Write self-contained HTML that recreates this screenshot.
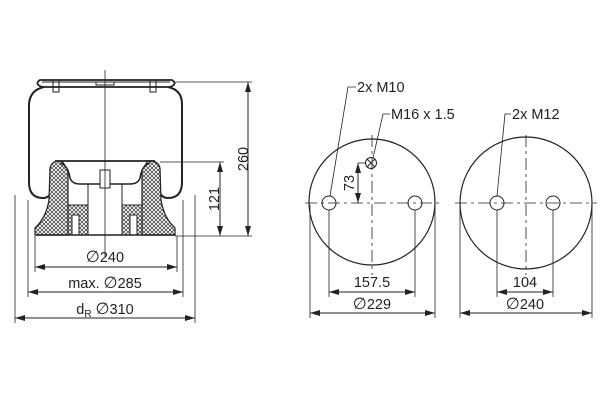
<!DOCTYPE html>
<html><head><meta charset="utf-8"><style>
html,body{margin:0;padding:0;background:#fff;}
svg{display:block}
text{font-family:"Liberation Sans",Arial,sans-serif;font-size:14.5px;fill:#222}
.d{font-family:"DejaVu Sans",sans-serif;font-size:16px}
</style></head><body>
<svg width="600" height="400" viewBox="0 0 600 400" xmlns="http://www.w3.org/2000/svg">
<defs>
<pattern id="h" width="4" height="4" patternUnits="userSpaceOnUse">
<rect width="4" height="4" fill="#fff"/>
<path d="M0,0L4,4M4,0L0,4" stroke="#333" stroke-width="0.7"/>
</pattern>
<marker id="a" viewBox="0 0 10 6" refX="10" refY="3" markerWidth="10" markerHeight="6" orient="auto-start-reverse" markerUnits="userSpaceOnUse"><path d="M0,0L10,3L0,6z" fill="#222"/></marker>
</defs>
<g stroke="#222" fill="none" stroke-width="1">
<path d="M40,80 Q34,84 42,87 L170,87 Q178,84 172,80 Z" stroke-width="1.8"/>
<line x1="42" y1="82" x2="170" y2="82"/>
<rect x="53" y="80" width="6" height="12"/><rect x="150" y="80" width="6" height="12"/>
<rect x="96" y="82" width="18" height="3"/>
<path d="M44,87 Q30,90 29,104 L29,182 Q29,198 43,198 Q50,198 52,190" stroke-width="2"/>
<path d="M168,87 Q182,90 182,104 L182,182 Q182,198 168,198 Q161,198 159,190" stroke-width="2"/>
<path d="M50,168 Q52,160 62,161 L68,170 L68,235 L35,235 L35,228 Q46,218 49,200 Z" fill="url(#h)" stroke-width="1.2"/>
<path d="M160,168 Q158,160 148,161 L142,170 L142,235 L175,235 L175,228 Q164,218 161,200 Z" fill="url(#h)" stroke-width="1.2"/>
<path d="M68,205 L88,205 L88,235 L68,235Z" fill="url(#h)"/>
<path d="M122,205 L142,205 L142,235 L122,235Z" fill="url(#h)"/>
<path d="M55,161 L155,161" stroke-width="1.8"/>
<path d="M60,163 Q68,165 70,178 Q72,184 80,184 L130,184 Q138,184 140,178 Q142,165 150,163" stroke-width="1.5"/>
<line x1="88" y1="184" x2="88" y2="235"/><line x1="122" y1="184" x2="122" y2="235"/>
<rect x="100" y="170" width="10" height="18" fill="#fff"/>
<rect x="72" y="215" width="7" height="20" fill="#fff"/><rect x="130" y="215" width="7" height="20" fill="#fff"/>
<line x1="35" y1="235" x2="175" y2="235" stroke-width="1.5"/>
<line x1="105" y1="70" x2="105" y2="258" stroke-width="0.8"/>
<line x1="175" y1="82" x2="252" y2="82" stroke-width="0.8"/>
<line x1="160" y1="162" x2="224" y2="162" stroke-width="0.8"/>
<line x1="175" y1="236" x2="252" y2="236" stroke-width="0.8"/>
<line x1="248" y1="82" x2="248" y2="236" marker-start="url(#a)" marker-end="url(#a)"/>
<line x1="220" y1="162" x2="220" y2="236" marker-start="url(#a)" marker-end="url(#a)"/>
<line x1="35" y1="236" x2="35" y2="272" stroke-width="0.8"/><line x1="177" y1="236" x2="177" y2="272" stroke-width="0.8"/>
<line x1="28" y1="200" x2="28" y2="297" stroke-width="0.8"/><line x1="183" y1="200" x2="183" y2="297" stroke-width="0.8"/>
<line x1="15" y1="195" x2="15" y2="323" stroke-width="0.8"/><line x1="195" y1="195" x2="195" y2="323" stroke-width="0.8"/>
<line x1="35" y1="267" x2="177" y2="267" marker-start="url(#a)" marker-end="url(#a)"/>
<line x1="28" y1="292" x2="183" y2="292" marker-start="url(#a)" marker-end="url(#a)"/>
<line x1="15" y1="318" x2="195" y2="318" marker-start="url(#a)" marker-end="url(#a)"/>
<circle cx="372" cy="202" r="63" stroke-width="1.2"/>
<circle cx="329" cy="203" r="7"/><circle cx="415" cy="203" r="7"/>
<circle cx="371" cy="163" r="5.5"/><path d="M367,159L375,167M375,159L367,167"/>
<line x1="305" y1="203" x2="440" y2="203" stroke-dasharray="12,4,3,4" stroke-width="0.8"/>
<line x1="372" y1="135" x2="372" y2="275" stroke-dasharray="12,4,3,4" stroke-width="0.8"/>
<circle cx="526" cy="203" r="66" stroke-width="1.2"/>
<circle cx="497" cy="203" r="7"/><circle cx="553" cy="203" r="7"/>
<line x1="455" y1="203" x2="597" y2="203" stroke-dasharray="12,4,3,4" stroke-width="0.8"/>
<line x1="526" y1="135" x2="526" y2="275" stroke-dasharray="12,4,3,4" stroke-width="0.8"/>
<polyline points="356,87 348,87 330,196" stroke-width="0.8"/>
<polyline points="390,114 383,114 373,158" stroke-width="0.8"/>
<polyline points="511,114 505,114 497,196" stroke-width="0.8"/>
<line x1="358" y1="163" x2="358" y2="203" marker-start="url(#a)" marker-end="url(#a)"/>
<line x1="358" y1="163" x2="366" y2="163" stroke-width="0.8"/>
<line x1="329" y1="210" x2="329" y2="297" stroke-width="0.8"/><line x1="415" y1="210" x2="415" y2="297" stroke-width="0.8"/>
<line x1="310" y1="205" x2="310" y2="318" stroke-width="0.8"/><line x1="435" y1="205" x2="435" y2="318" stroke-width="0.8"/>
<line x1="497" y1="210" x2="497" y2="297" stroke-width="0.8"/><line x1="553" y1="210" x2="553" y2="297" stroke-width="0.8"/>
<line x1="460" y1="205" x2="460" y2="318" stroke-width="0.8"/><line x1="592" y1="205" x2="592" y2="318" stroke-width="0.8"/>
<line x1="329" y1="292" x2="415" y2="292" marker-start="url(#a)" marker-end="url(#a)"/>
<line x1="310" y1="313" x2="435" y2="313" marker-start="url(#a)" marker-end="url(#a)"/>
<line x1="497" y1="292" x2="553" y2="292" marker-start="url(#a)" marker-end="url(#a)"/>
<line x1="460" y1="313" x2="592" y2="313" marker-start="url(#a)" marker-end="url(#a)"/>
</g>
<text x="243" y="159" text-anchor="middle" transform="rotate(-90 243 159)" dy="5">260</text>
<text x="214" y="199" text-anchor="middle" transform="rotate(-90 214 199)" dy="5">121</text>
<text x="105" y="262" text-anchor="middle"><tspan class="d">∅</tspan>240</text>
<text x="105" y="288" text-anchor="middle">max. <tspan class="d">∅</tspan>285</text>
<text x="105" y="314" text-anchor="middle">d<tspan font-size="10" dy="3">R</tspan><tspan dy="-3"> </tspan><tspan class="d">∅</tspan>310</text>
<text x="357" y="92">2x M10</text>
<text x="391" y="119">M16 x 1.5</text>
<text x="512" y="119">2x M12</text>
<text x="349" y="183" text-anchor="middle" transform="rotate(-90 349 183)" dy="5">73</text>
<text x="372" y="287" text-anchor="middle">157.5</text>
<text x="372" y="309" text-anchor="middle"><tspan class="d">∅</tspan>229</text>
<text x="525" y="287" text-anchor="middle">104</text>
<text x="525" y="309" text-anchor="middle"><tspan class="d">∅</tspan>240</text>
</svg>
</body></html>
